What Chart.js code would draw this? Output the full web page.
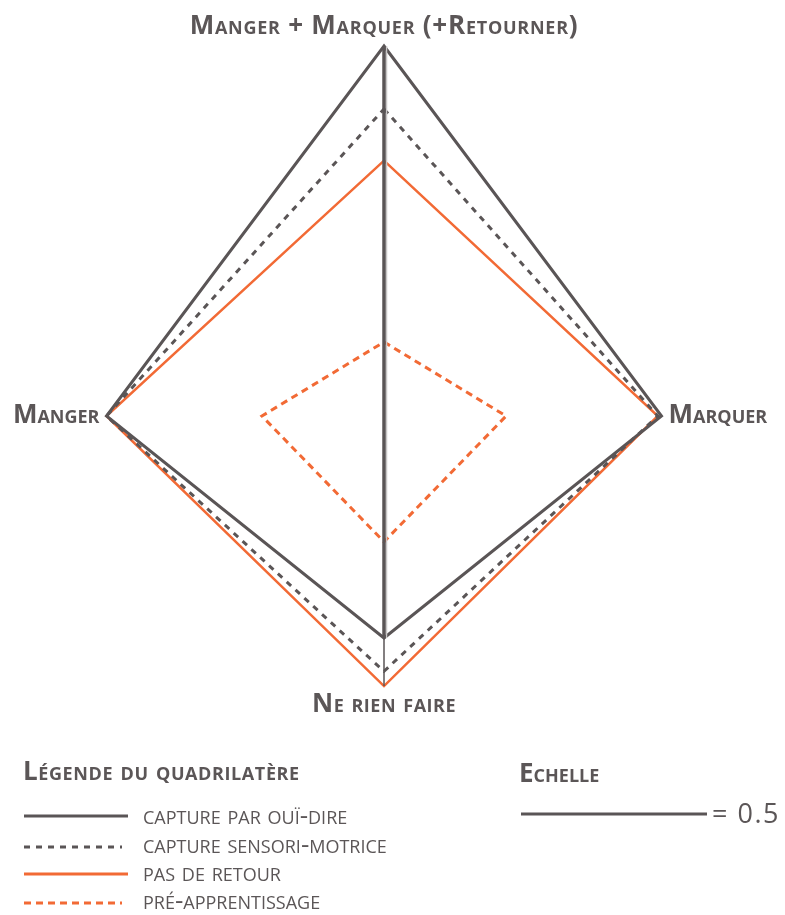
<!DOCTYPE html>
<html lang="fr">
<head>
    <meta charset="UTF-8">
    <title>Quadrilatère</title>
    <style>
        body {
            margin: 0;
            background: #fff;
            font-family: "Open Sans", sans-serif;
            color: #5b5657;
        }
        .page {
            position: relative;
            width: 785px;
            height: 915px;
        }
        .page canvas {
            position: absolute;
            left: 0;
            top: 0;
        }
        .txt {
            position: absolute;
            white-space: nowrap;
            font-variant: small-caps;
            line-height: 24px;
        }
        .bold { font-weight: bold; font-size: 26px; }
        .item { font-size: 26px; }
        .key { position: absolute; left: 24px; }
    </style>
    <script src="https://cdn.jsdelivr.net/npm/chart.js@4.4.1/dist/chart.umd.min.js"></script>
</head>
<body>
    <div class="page">
        <canvas id="radar"></canvas>

        <!-- legend -->
        <div class="txt bold" style="left:23px; top:758px; letter-spacing:0.6px;">Légende du quadrilatère</div>
        <svg class="key" style="top:810px" width="110" height="12" id="key0"></svg>
        <svg class="key" style="top:841px" width="110" height="12" id="key1"></svg>
        <svg class="key" style="top:868px" width="110" height="12" id="key2"></svg>
        <svg class="key" style="top:897px" width="110" height="12" id="key3"></svg>
        <div class="txt item" id="lab0" style="left:143px; top:802px;"></div>
        <div class="txt item" id="lab1" style="left:143px; top:831px;"></div>
        <div class="txt item" id="lab2" style="left:143px; top:859px;"></div>
        <div class="txt item" id="lab3" style="left:143px; top:887px;"></div>

        <!-- scale -->
        <div class="txt bold" style="left:519px; top:760px;">Echelle</div>
        <svg style="position:absolute; left:520px; top:808px" width="190" height="12">
            <line x1="1" y1="6" x2="187" y2="6" stroke="#5a5556" stroke-width="3"/>
        </svg>
        <div class="txt" style="left:712px; top:801px; font-size:27px; font-variant:normal; letter-spacing:1.5px;">= 0.5</div>
    </div>

    <script>
        // axes, clockwise from the top
        const categories = ['Manger + Marquer (+Retourner)', 'Marquer', 'Ne rien faire', 'Manger'];

        const seriesNames = ['capture par ouï-dire', 'capture sensori-motrice', 'pas de retour', 'pré-apprentissage'];
        const ouiDire = [1.0, 0.75, 0.6, 0.75];
        const sensoriMotrice = [0.83, 0.74, 0.69, 0.75];
        const pasDeRetour = [0.69, 0.74, 0.73, 0.75];
        const preApprentissage = [0.2, 0.33, 0.34, 0.33];

        const grey = '#5a5556';
        const orange = '#f26a35';
        const textColor = '#5b5657';

        const allSeries = [ouiDire, sensoriMotrice, pasDeRetour, preApprentissage];
        const colors = [grey, grey, orange, orange];
        const dashes = [[], [6, 6], [], [7, 5]];
        const widths = [3, 3, 2.5, 3];

        // legend keys
        seriesNames.forEach((name, i) => {
            document.getElementById('lab' + i).textContent = name;
            const svg = document.getElementById('key' + i);
            const len = dashes[i].length ? 98 : 104;
            svg.innerHTML = '<line x1="0" y1="6" x2="' + len + '" y2="6" stroke="' + colors[i] +
                '" stroke-width="3" stroke-dasharray="' + dashes[i].join(' ') + '"/>';
        });

        // axis names placed just outside the outermost point of each axis
        const axisLabels = {
            id: 'axisLabels',
            afterDatasetsDraw(chart) {
                const r = chart.scales.r;
                const ctx = chart.ctx;
                ctx.save();
                ctx.font = 'small-caps bold 26px "Open Sans"';
                ctx.fillStyle = textColor;
                ctx.textBaseline = 'alphabetic';
                categories.forEach((label, i) => {
                    const outer = Math.max(...allSeries.map(s => s[i]));
                    const p = r.getPointPositionForValue(i, outer);
                    ctx.letterSpacing = '0px';
                    if (i === 0) {
                        ctx.textAlign = 'center';
                        ctx.letterSpacing = '0.75px';
                        ctx.fillText(label, p.x, p.y - 12);
                    } else if (i === 1) {
                        ctx.textAlign = 'left';
                        ctx.fillText(label, p.x + 7, p.y + 7);
                    } else if (i === 2) {
                        ctx.textAlign = 'center';
                        ctx.letterSpacing = '0.5px';
                        ctx.fillText(label, p.x, p.y + 26);
                    } else {
                        ctx.textAlign = 'right';
                        ctx.fillText(label, p.x - 7, p.y + 7);
                    }
                });
                ctx.restore();
            }
        };

        // vertical axis: thick between the top and bottom of the first series,
        // thin down to the outermost bottom point
        const verticalAxis = {
            id: 'verticalAxis',
            afterDatasetsDraw(chart) {
                const r = chart.scales.r;
                const ctx = chart.ctx;
                const top = r.getPointPositionForValue(0, ouiDire[0]);
                const mid = r.getPointPositionForValue(2, ouiDire[2]);
                const low = r.getPointPositionForValue(2, Math.max(...allSeries.map(s => s[2])));
                ctx.save();
                ctx.strokeStyle = '#c8c6c6';
                ctx.lineWidth = 1.5;
                ctx.beginPath();
                ctx.moveTo(top.x + 2.5, top.y);
                ctx.lineTo(mid.x + 2.5, mid.y);
                ctx.stroke();
                ctx.strokeStyle = grey;
                ctx.lineWidth = 3.5;
                ctx.beginPath();
                ctx.moveTo(top.x, top.y);
                ctx.lineTo(mid.x, mid.y);
                ctx.stroke();
                ctx.lineWidth = 1.5;
                ctx.beginPath();
                ctx.moveTo(mid.x, mid.y);
                ctx.lineTo(low.x, low.y);
                ctx.stroke();
                ctx.restore();
            }
        };

        new Chart(document.getElementById('radar'), {
            type: 'radar',
            data: {
                labels: categories,
                datasets: allSeries.map((s, i) => ({
                    label: seriesNames[i],
                    data: s,
                    borderColor: colors[i],
                    borderDash: dashes[i],
                    borderWidth: widths[i],
                    backgroundColor: 'transparent',
                    fill: false,
                    pointRadius: 0,
                    tension: 0
                }))
            },
            options: {
                responsive: true,
                maintainAspectRatio: false,
                animation: false,
                layout: {
                    padding: { left: 14, right: 31, top: 46, bottom: 129 }
                },
                plugins: {
                    legend: { display: false },
                    tooltip: { enabled: false }
                },
                scales: {
                    r: {
                        min: 0,
                        max: 1,
                        ticks: { display: false },
                        grid: { display: false },
                        angleLines: { display: false },
                        pointLabels: { display: false }
                    }
                }
            },
            plugins: [verticalAxis, axisLabels]
        });
    </script>
</body>
</html>
